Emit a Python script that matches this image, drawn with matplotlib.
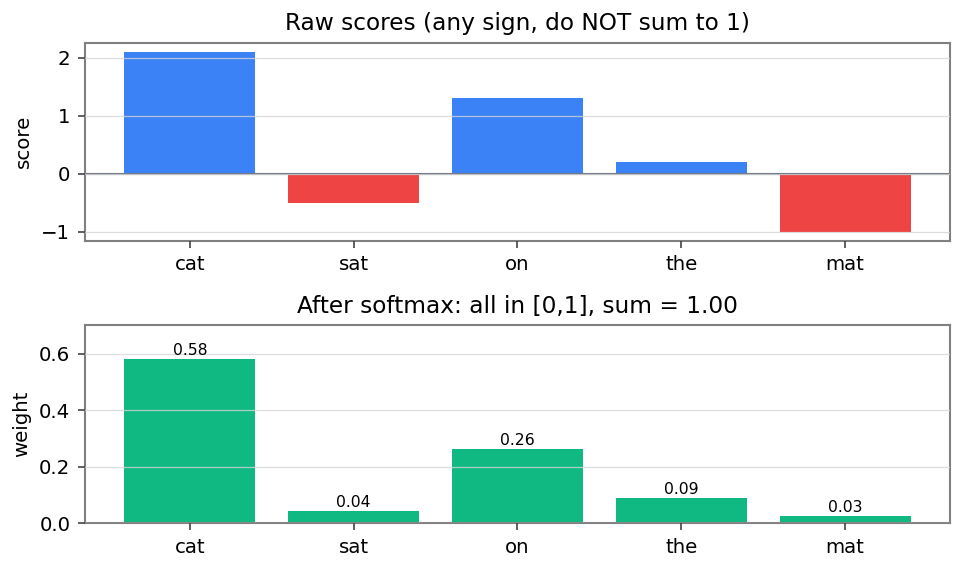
import matplotlib
matplotlib.use("Agg")
import matplotlib.pyplot as plt

tokens = ["cat", "sat", "on", "the", "mat"]
scores = [2.1, -0.5, 1.3, 0.2, -1.0]
weights = [0.582, 0.043, 0.262, 0.087, 0.026]
weight_labels = ["0.58", "0.04", "0.26", "0.09", "0.03"]

BLUE = "#3b82f6"
RED = "#ef4444"
GREEN = "#10b981"
SPINE = "#808080"

plt.rcParams["font.family"] = ["DejaVu Sans"]

fig, (ax1, ax2) = plt.subplots(2, 1, figsize=(9.65 / 1.5, 5.71 / 1.5), dpi=150)
fig.subplots_adjust(left=0.088, right=0.9845, top=0.9247, bottom=0.084, hspace=0.43)

colors = [BLUE if s >= 0 else RED for s in scores]
ax1.bar(tokens, scores, color=colors, width=0.8)
ax1.axhline(0, color="#6b7280", linewidth=1)
ax1.set_ylabel("score", fontsize=9.5)
ax1.set_title("Raw scores (any sign, do NOT sum to 1)", fontsize=11.2)
ax1.set_ylim(-1.155, 2.255)
ax1.set_yticks([-1, 0, 1, 2])

ax2.bar(tokens, weights, color=GREEN, width=0.8)
for i, (w, lab) in enumerate(zip(weights, weight_labels)):
    ax2.text(i, w + 0.004, lab, ha="center", va="bottom", fontsize=7.5)
ax2.set_ylabel("weight", fontsize=9.5)
ax2.set_title("After softmax: all in [0,1], sum = 1.00", fontsize=11.2)
ax2.set_ylim(0, 0.7)
ax2.set_yticks([0.0, 0.2, 0.4, 0.6])

for ax in (ax1, ax2):
    ax.set_xlim(-0.64, 4.64)
    ax.grid(axis="y", color="#d4d4d4", linewidth=0.6, alpha=0.8)
    ax.set_axisbelow(False)
    for sp in ax.spines.values():
        sp.set_color(SPINE)
        sp.set_linewidth(1.0)
    ax.tick_params(axis="both", labelsize=9.5, color="#444444", length=3.5)

fig.savefig("out.png", dpi=150)
